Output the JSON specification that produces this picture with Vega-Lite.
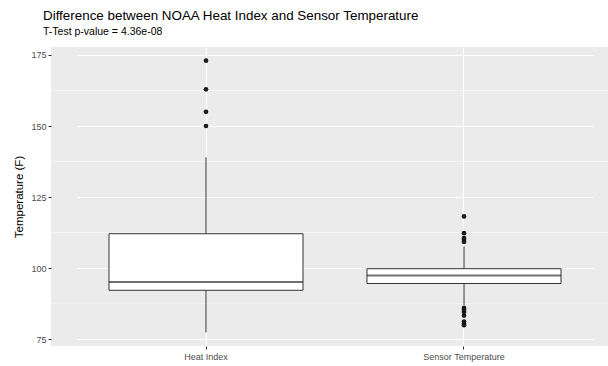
{
  "$schema": "https://vega.github.io/schema/vega-lite/v6.json",
  "autosize": {"type": "none"},
  "width": 557,
  "height": 299,
  "padding": {"left": 51, "top": 47, "right": 0, "bottom": 20},
  "background": "white",
  "config": {
    "font": "Liberation Sans",
    "view": {"fill": "#EBEBEB", "stroke": null},
    "axis": {
      "domain": false,
      "tickColor": "#333333",
      "tickSize": 3,
      "tickWidth": 1,
      "labelColor": "#4D4D4D",
      "labelFontSize": 9,
      "labelFont": "Liberation Sans",
      "titleFont": "Liberation Sans",
      "titleFontWeight": "normal",
      "titleColor": "#000000",
      "titleFontSize": 11.5,
      "gridColor": "#FFFFFF",
      "gridWidth": 1.1,
      "gridOpacity": 1
    }
  },
  "title": {
    "text": "Difference between NOAA Heat Index and Sensor Temperature",
    "subtitle": "T-Test p-value = 4.36e-08",
    "anchor": "start",
    "frame": "group",
    "dx": -8,
    "offset": 10,
    "font": "Liberation Sans",
    "fontSize": 13.4,
    "fontWeight": "normal",
    "color": "#000000",
    "subtitleFont": "Liberation Sans",
    "subtitleFontSize": 10.5,
    "subtitleColor": "#000000",
    "subtitlePadding": 4
  },
  "datasets": {
    "stats": [
      {"group": "Heat Index", "lower": 77.4, "q1": 92.2, "median": 95.1, "q3": 112.1, "upper": 139},
      {"group": "Sensor Temperature", "lower": 87, "q1": 94.6, "median": 97.4, "q3": 99.8, "upper": 107.6}
    ],
    "outliers": [
      {"group": "Heat Index", "value": 173},
      {"group": "Heat Index", "value": 162.9},
      {"group": "Heat Index", "value": 155},
      {"group": "Heat Index", "value": 150},
      {"group": "Sensor Temperature", "value": 118.2},
      {"group": "Sensor Temperature", "value": 112.3},
      {"group": "Sensor Temperature", "value": 110.6},
      {"group": "Sensor Temperature", "value": 109.9},
      {"group": "Sensor Temperature", "value": 109.2},
      {"group": "Sensor Temperature", "value": 86.0},
      {"group": "Sensor Temperature", "value": 85.3},
      {"group": "Sensor Temperature", "value": 84.6},
      {"group": "Sensor Temperature", "value": 83.3},
      {"group": "Sensor Temperature", "value": 81.2},
      {"group": "Sensor Temperature", "value": 80.4},
      {"group": "Sensor Temperature", "value": 79.9}
    ],
    "minor": [{"v": 87.5}, {"v": 112.5}, {"v": 137.5}, {"v": 162.5}]
  },
  "layer": [
    {
      "data": {"name": "minor"},
      "mark": {"type": "rule", "color": "#FFFFFF", "strokeWidth": 0.5},
      "encoding": {
        "y": {"field": "v", "type": "quantitative",
          "scale": {"domain": [72.6, 177.8], "nice": false, "zero": false},
          "axis": {"title": "Temperature (F)", "values": [75, 100, 125, 150, 175], "grid": true, "labelPadding": 2, "titlePadding": 6}}
      }
    },
    {
      "data": {"name": "stats"},
      "mark": {"type": "rule", "color": "#333333", "strokeWidth": 1},
      "encoding": {
        "x": {
          "field": "group",
          "type": "nominal",
          "scale": {"type": "band", "range": [26, 542], "paddingInner": 0.248, "paddingOuter": 0.124},
          "axis": {"title": null, "labelAngle": 0, "grid": true, "labelPadding": 3}
        },
        "y": {"field": "lower", "type": "quantitative"},
        "y2": {"field": "upper"}
      }
    },
    {
      "data": {"name": "stats"},
      "mark": {"type": "bar", "fill": "#FFFFFF", "stroke": "#333333", "strokeWidth": 1},
      "encoding": {
        "x": {"field": "group", "type": "nominal"},
        "y": {"field": "q1", "type": "quantitative"},
        "y2": {"field": "q3"}
      }
    },
    {
      "data": {"name": "stats"},
      "mark": {"type": "tick", "color": "#333333", "thickness": 2, "orient": "horizontal", "size": 194},
      "encoding": {
        "x": {"field": "group", "type": "nominal"},
        "y": {"field": "median", "type": "quantitative"}
      }
    },
    {
      "data": {"name": "outliers"},
      "mark": {"type": "circle", "color": "#1A1A1A", "opacity": 1, "size": 22},
      "encoding": {
        "x": {"field": "group", "type": "nominal"},
        "y": {"field": "value", "type": "quantitative"}
      }
    }
  ],
  "resolve": {"scale": {"x": "shared", "y": "shared"}}
}
